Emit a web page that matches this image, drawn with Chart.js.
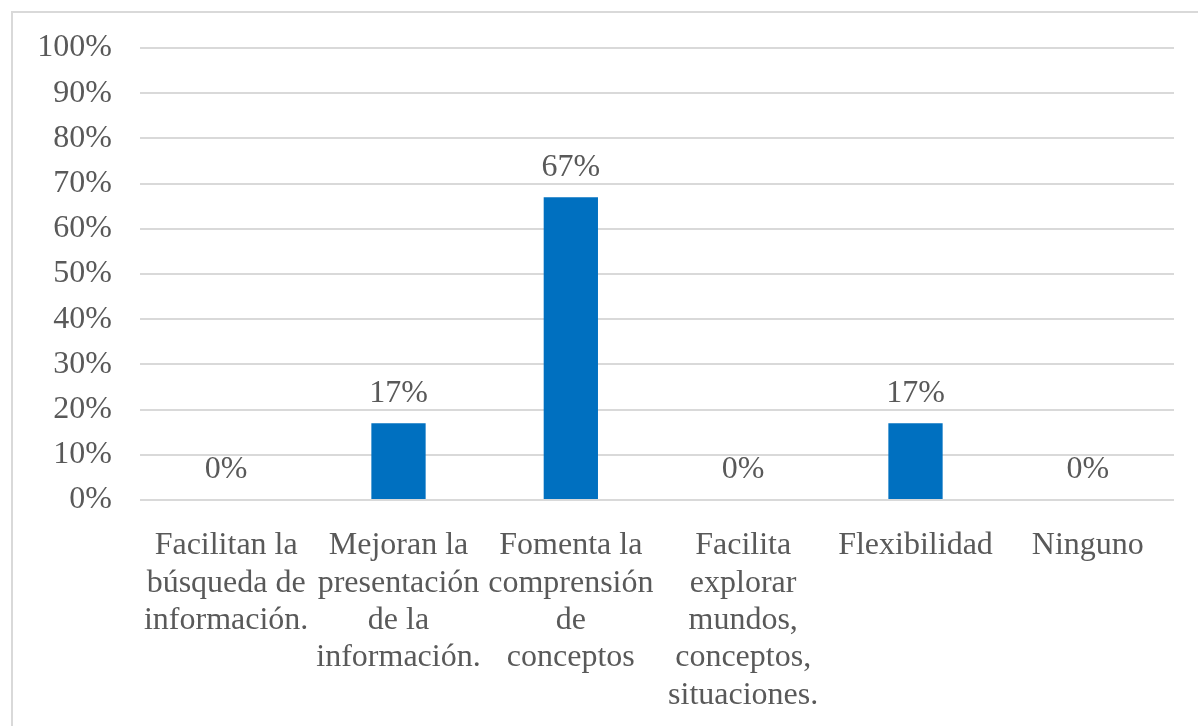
<!DOCTYPE html>
<html>
<head>
<meta charset="utf-8">
<script src="https://cdn.jsdelivr.net/npm/chart.js@4.4.0/dist/chart.umd.min.js"></script>
<style>
  html, body { margin: 0; padding: 0; background: #fff; }
  #wrap { position: relative; width: 1198px; height: 726px; overflow: hidden; }
  #frame { position: absolute; left: 11px; top: 11px; width: 1220px; height: 800px;
           border: 2px solid #d9d9d9; box-sizing: border-box; pointer-events: none; }
  canvas { position: absolute; left: 0; top: 0; }
</style>
</head>
<body>
<div id="wrap">
  <canvas id="grafico" width="1198" height="726"></canvas>
  <div id="frame"></div>
</div>
<script>
var categorias = [
  ["Facilitan la", "búsqueda de", "información."],
  ["Mejoran la", "presentación", "de la", "información."],
  ["Fomenta la", "comprensión", "de", "conceptos"],
  ["Facilita", "explorar", "mundos,", "conceptos,", "situaciones."],
  ["Flexibilidad"],
  ["Ninguno"]
];

var porcentajes = [0, 17, 67, 0, 17, 0];

var textoGris = "#595959";
var fuente = "'Liberation Serif', 'Times New Roman', serif";

// etiquetas de valor encima de cada barra
var etiquetas = {
  id: "etiquetas",
  afterDatasetsDraw: function (chart) {
    var ctx = chart.ctx;
    var meta = chart.getDatasetMeta(0);
    ctx.save();
    ctx.font = "32px " + fuente;
    ctx.fillStyle = textoGris;
    ctx.textAlign = "center";
    ctx.textBaseline = "middle";
    meta.data.forEach(function (bar, i) {
      ctx.fillText(porcentajes[i] + "%", bar.x, bar.y - 30);
    });
    ctx.restore();
  }
};

var ctx = document.getElementById("grafico");
var grafico = new Chart(ctx, {
  type: "bar",
  data: {
    labels: categorias,
    datasets: [{
      data: porcentajes,
      backgroundColor: "#0070C0",
      borderWidth: 0,
      barPercentage: 0.315,
      categoryPercentage: 1
    }]
  },
  options: {
    responsive: false,
    animation: false,
    layout: { padding: { top: 48, right: 24, left: 0, bottom: 0 } },
    plugins: {
      legend: { display: false },
      tooltip: { enabled: false }
    },
    scales: {
      x: {
        grid: { display: false, drawTicks: false },
        border: { display: false },
        ticks: {
          color: textoGris,
          font: { family: fuente, size: 32, lineHeight: 1.17 },
          padding: 27,
          autoSkip: false,
          maxRotation: 0,
          minRotation: 0
        },
        afterFit: function (scale) { scale.height = 226; }
      },
      y: {
        min: 0,
        max: 100,
        grid: { color: "#d9d9d9", lineWidth: 2, drawTicks: false },
        border: { display: false },
        ticks: {
          stepSize: 10,
          color: textoGris,
          font: { family: fuente, size: 32 },
          padding: 28,
          callback: function (v) { return v + "%"; }
        },
        afterFit: function (scale) { scale.width = 140; }
      }
    }
  },
  plugins: [etiquetas]
});
</script>
</body>
</html>
